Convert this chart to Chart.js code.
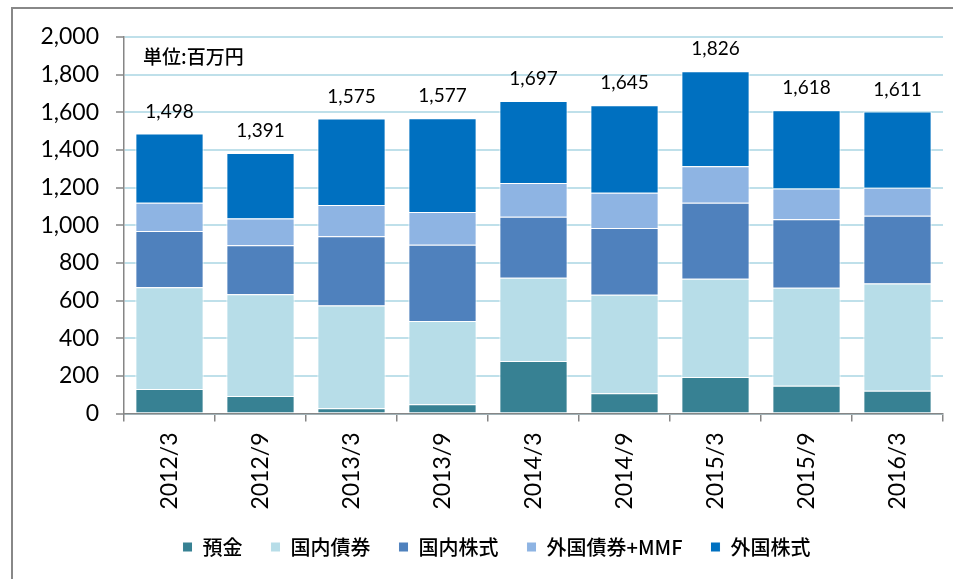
<!DOCTYPE html>
<html>
<head>
<meta charset="utf-8">
<script src="https://cdn.jsdelivr.net/npm/chart.js@4/dist/chart.umd.min.js"></script>
<style>
  html, body { margin: 0; padding: 0; background: #fff; overflow: hidden; }
  #wrap { position: relative; width: 953px; height: 579px; overflow: hidden; }
  #frame { position: absolute; left: 11px; top: 7px; width: 2000px; height: 2000px; border: 2px solid #888; box-sizing: border-box; }
  canvas { position: absolute; left: 0; top: 0; }
</style>
</head>
<body>
<div id="wrap">
  <div id="frame"></div>
  <canvas id="c" width="953" height="579"></canvas>
</div>
<script>
const categories = ['2012/3','2012/9','2013/3','2013/9','2014/3','2014/9','2015/3','2015/9','2016/3'];
const seriesNames = ['預金','国内債券','国内株式','外国債券+MMF','外国株式'];
const deposits      = [130,  93,  28,  49, 279, 107, 194, 148, 121];
const domesticBonds = [540, 541, 546, 442, 442, 524, 522, 520, 570];
const domesticStock = [300, 260, 368, 405, 324, 354, 403, 364, 359];
const foreignBonds  = [149, 142, 166, 175, 180, 187, 195, 163, 149];
const foreignStock  = [368, 348, 459, 497, 435, 465, 504, 416, 405];
const totalLabels   = [1498, 1391, 1575, 1577, 1697, 1645, 1826, 1618, 1611];
const yTicks = [0, 200, 400, 600, 800, 1000, 1200, 1400, 1600, 1800, 2000];
const unitText = '単位:百万円';

const colors = ['#378193', '#b7dde8', '#4f81bd', '#8eb4e3', '#0070c0'];
const seriesData = [deposits, domesticBonds, domesticStock, foreignBonds, foreignStock];

Chart.defaults.font.family = "Lato, 'Noto Sans CJK JP', sans-serif";
Chart.defaults.color = '#000';

const fmt = v => Number(v).toLocaleString('en-US');

const overlay = {
  id: 'overlay',
  afterLayout(chart) {
    if (chart.legend) chart.legend.left += 50;
  },
  afterDatasetsDraw(chart) {
    const ctx = chart.ctx;
    const y = chart.scales.y, x = chart.scales.x;
    const area = chart.chartArea;
    ctx.save();
    ctx.fillStyle = '#000';
    ctx.font = "19px Lato, 'Noto Sans CJK JP'";
    ctx.textAlign = 'center';
    ctx.textBaseline = 'middle';
    categories.forEach((c, i) => {
      let sum = 0;
      seriesData.forEach(s => sum += s[i]);
      ctx.fillText(fmt(totalLabels[i]), x.getPixelForValue(i), y.getPixelForValue(sum) - 22);
    });
    ctx.font = "500 19px 'Noto Sans CJK JP'";
    ctx.textAlign = 'left';
    ctx.fillText(unitText, area.left + 19, area.top + 20);
    ctx.restore();
  }
};

new Chart(document.getElementById('c'), {
  type: 'bar',
  data: {
    labels: categories,
    datasets: seriesNames.map((n, k) => ({
      label: n,
      data: seriesData[k],
      backgroundColor: colors[k],
      borderColor: '#ffffff',
      borderWidth: 1,
      categoryPercentage: 1.0,
      barPercentage: 0.75
    }))
  },
  options: {
    responsive: false,
    animation: false,
    devicePixelRatio: 1,
    layout: { padding: { left: 0, right: 10, top: 37, bottom: 12 } },
    plugins: {
      legend: {
        position: 'bottom',
        labels: {
          boxWidth: 10, boxHeight: 10, padding: 28,
          font: { size: 20, weight: '500', family: "'Noto Sans CJK JP'" },
          color: '#000'
        }
      },
      tooltip: { enabled: false }
    },
    scales: {
      x: {
        stacked: true,
        offset: true,
        grid: { offset: true, drawOnChartArea: false, drawTicks: true, tickLength: 8, tickColor: '#868686', lineWidth: 1.5 },
        border: { color: '#868686', width: 1.5 },
        ticks: { minRotation: 90, maxRotation: 90, padding: 11, font: { size: 23 }, color: '#000' },
        afterFit(s) { s.height = 95.5; }
      },
      y: {
        stacked: true,
        min: 0, max: 2000,
        afterBuildTicks(s) { s.ticks = yTicks.map(v => ({ value: v })); },
        grid: { color: '#bfe0ea', lineWidth: 2, tickLength: 8, tickColor: '#868686', tickWidth: 1.5 },
        border: { color: '#868686', width: 1.5 },
        ticks: { padding: 17, font: { size: 23 }, color: '#000', callback: v => fmt(v) },
        afterFit(s) { s.width = 124; }
      }
    }
  },
  plugins: [overlay]
});
</script>
</body>
</html>
